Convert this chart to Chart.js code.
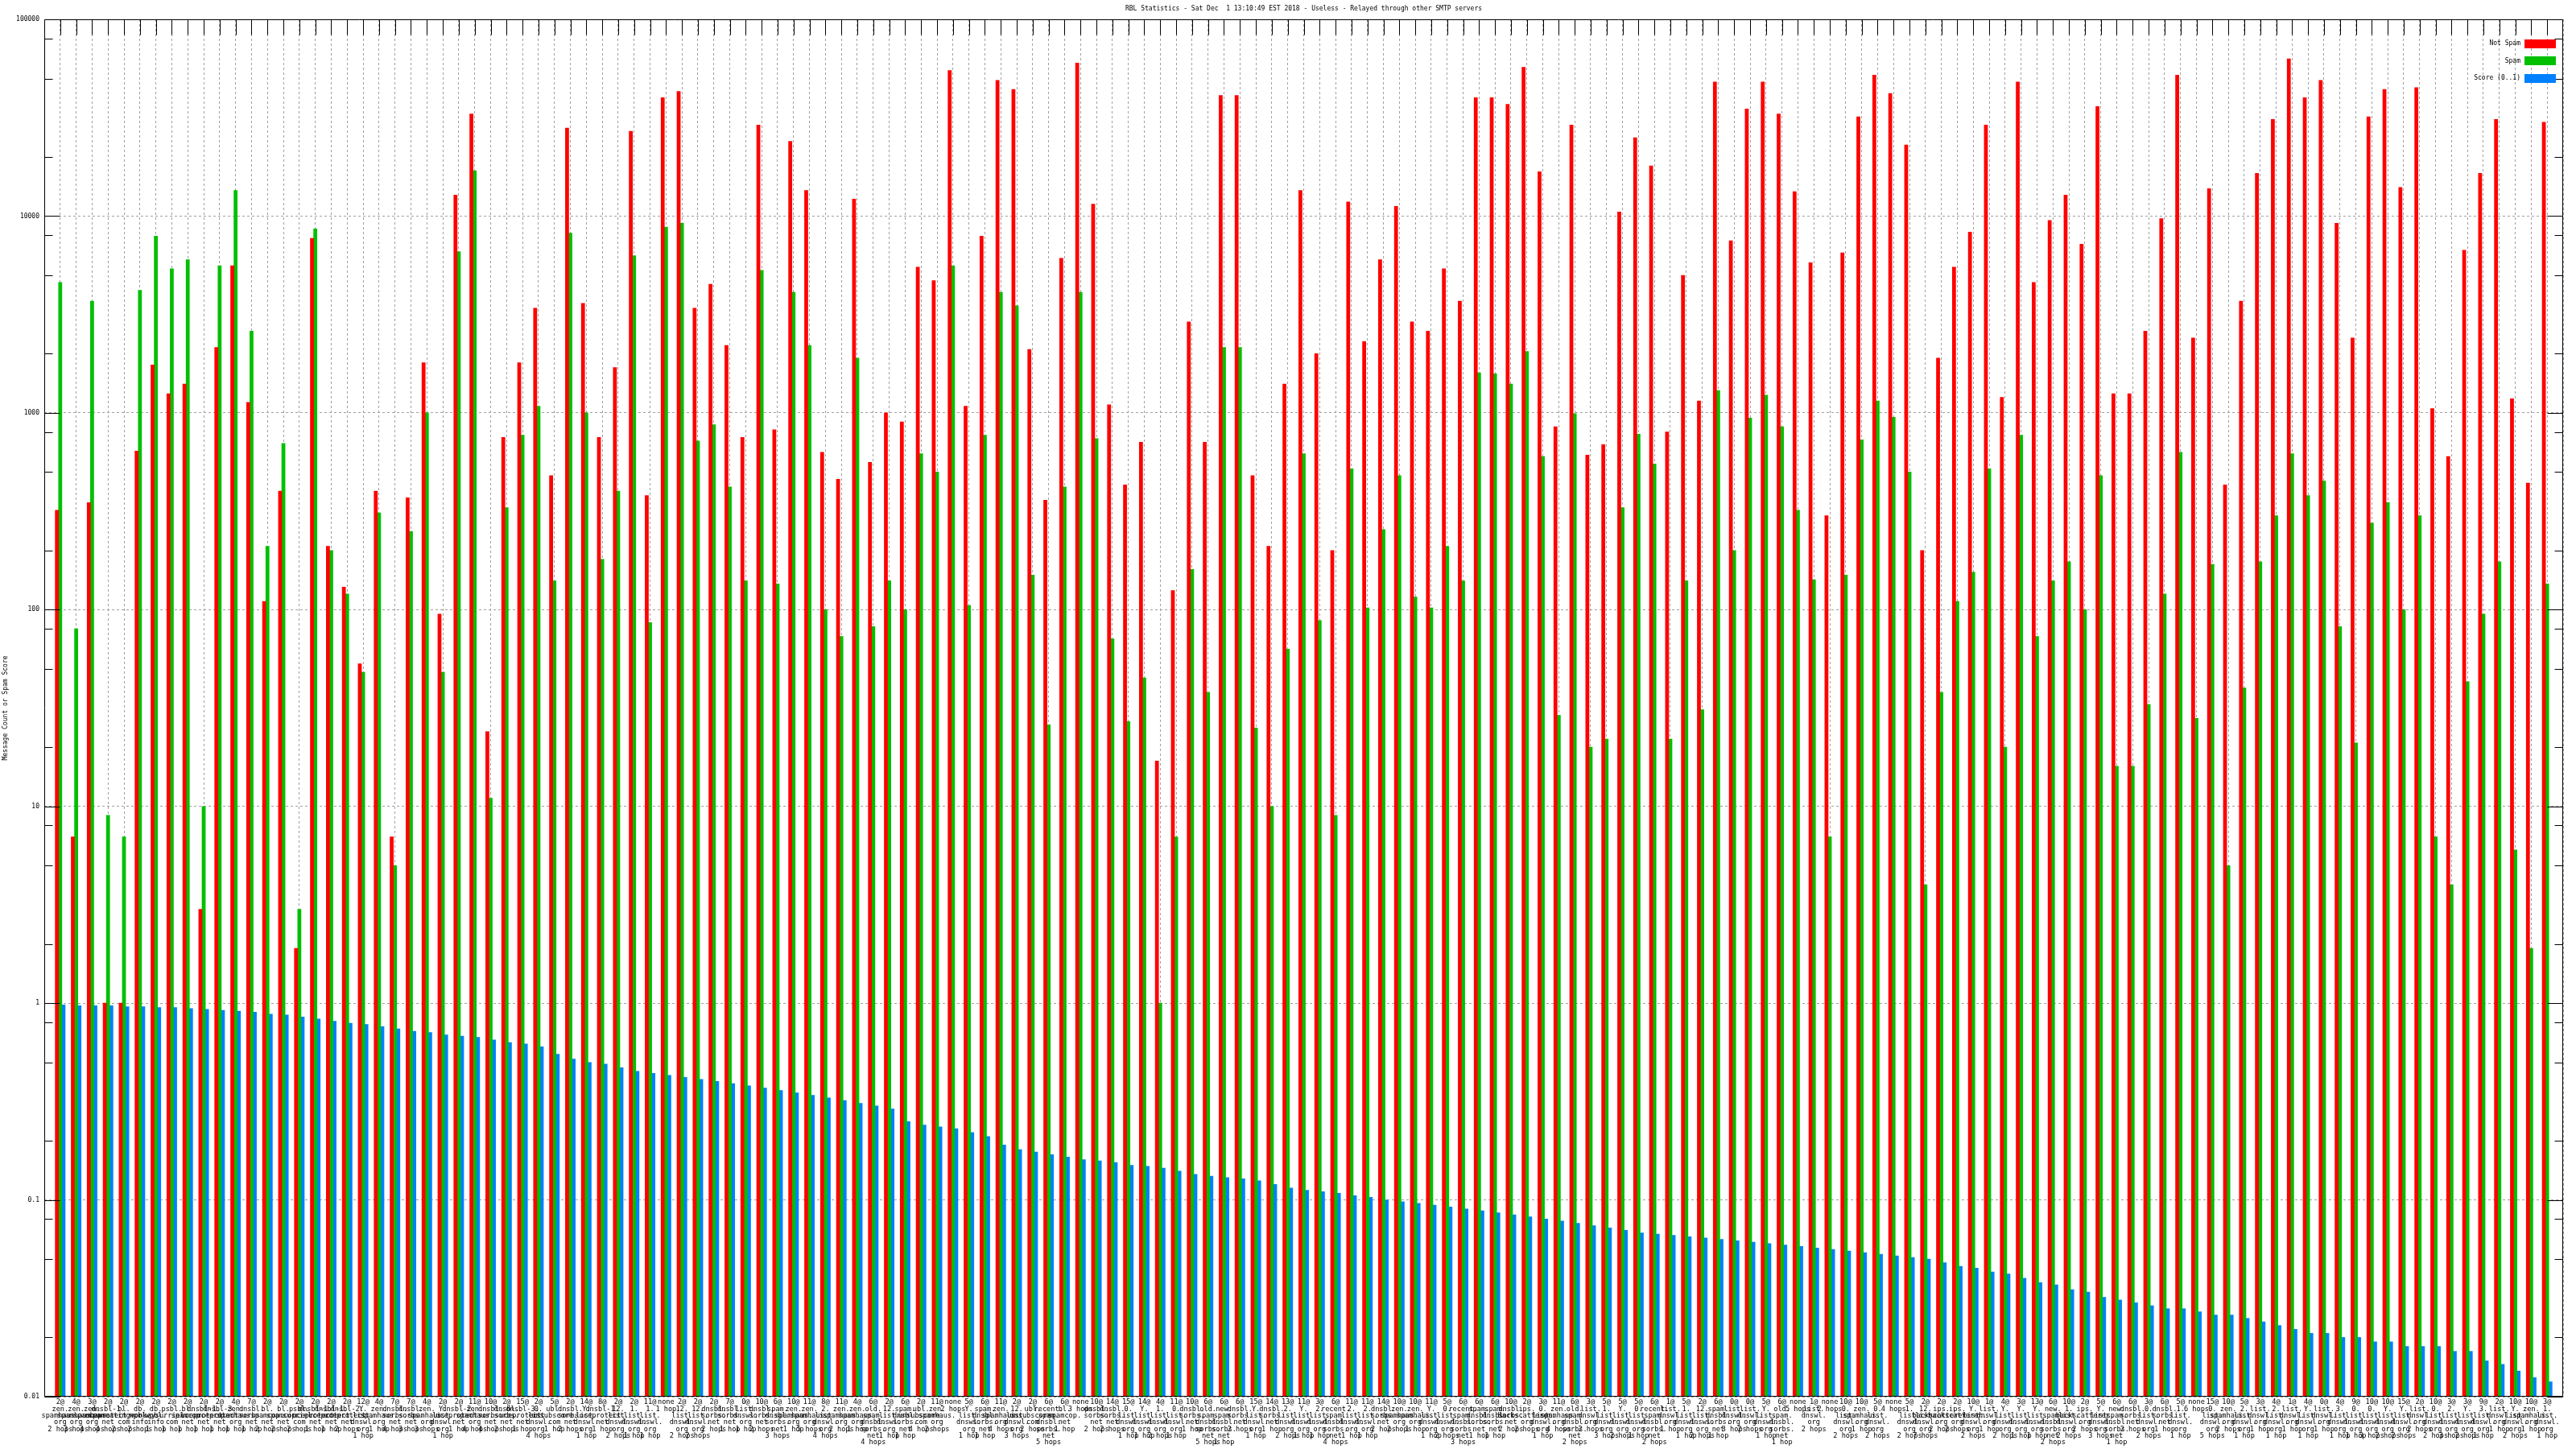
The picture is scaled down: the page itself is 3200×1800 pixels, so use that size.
<!DOCTYPE html>
<html>
<head>
<meta charset="utf-8">
<script src="https://cdn.jsdelivr.net/npm/chart.js@4/dist/chart.umd.min.js"></script>
<style>
html, body { margin: 0; padding: 0; background: #fff; }
#wrap { width: 3200px; height: 1800px; }
</style>
</head>
<body>
<div id="wrap"><canvas id="c" width="3200" height="1800"></canvas></div>
<script>
// libellés axe x : score@ / liste / hops
const scoreTags = [
  '2@','4@','3@','2@','2@','2@','2@','2@','2@','2@','2@','4@','7@','2@','2@','2@','2@','2@','2@','12@','4@','7@','7@','4@',
  '2@','2@','11@','10@','2@','15@','2@','5@','2@','14@','8@','2@','2@','11@','none','2@','2@','2@','7@','0@','10@','6@',
  '10@','11@','8@','11@','4@','6@','2@','6@','2@','11@','none','5@','6@','11@','2@','2@','6@','6@','none','10@','14@','15@',
  '14@','4@','11@','10@','6@','6@','6@','15@','14@','13@','11@','3@','6@','11@','11@','14@','10@','10@','11@','5@','6@','6@','6@','10@','2@',
  '3@','11@','6@','3@','5@','5@','5@','6@','1@','5@','2@','6@','0@','0@','5@','6@','none','1@','none','10@',
  '10@','5@','none','5@','2@','2@','2@','10@','1@','4@','3@','13@','6@','10@','2@','5@','6@','6@','3@','6@','5@',
  'none','15@','10@','5@','3@','4@','1@','4@','0@','4@','9@','10@','10@','15@','2@','10@','3@','3@','9@','2@','10@','10@','3@'
];

const lists = [
  'zen.spamhaus.org','zen.spamhaus.org','zen.spamhaus.org','dnsbl-1.uceprotect.net','bl.spameatingmonkey.com',
  'db.wpbl.info','db.wpbl.info','psbl.surriel.com','bl.spamcop.net','dnsbl-1.uceprotect.net',
  'dnsbl-3.uceprotect.net','zen.spamhaus.org','dnsbl.sorbs.net','bl.spamcop.net','bl.spamcop.net',
  'psbl.surriel.com','dnsbl-1.uceprotect.net','dnsbl-1.uceprotect.net','dnsbl-2.uceprotect.net','Y.list.dnswl.org',
  'zen.spamhaus.org','dnsbl.sorbs.net','dnsbl.sorbs.net','zen.spamhaus.org','Y.list.dnswl.org',
  'dnsbl-2.uceprotect.net','zen.spamhaus.org','dnsbl.sorbs.net','dnsbl.sorbs.net','dnsbl-3.uceprotect.net',
  '0.list.dnswl.org','ubl.unsubscore.com','dnsbl.sorbs.net','Y.list.dnswl.org','dnsbl-1.uceprotect.net',
  '12.list.dnswl.org','1.list.dnswl.org','1.list.dnswl.org','','12.list.dnswl.org',
  '12.list.dnswl.org','dnsbl.sorbs.net','dnsbl.sorbs.net','list.dnswl.org','dnsbl.sorbs.net',
  'spam.dnsbl.sorbs.net','zen.spamhaus.org','zen.spamhaus.org','2.list.dnswl.org','zen.spamhaus.org',
  'zen.spamhaus.org','old.spam.dnsbl.sorbs.net','12.list.dnswl.org','spam.dnsbl.sorbs.net','ubl.unsubscore.com',
  'zen.spamhaus.org','','Y.list.dnswl.org','spam.dnsbl.sorbs.net','zen.spamhaus.org',
  '12.list.dnswl.org','ubl.unsubscore.com','recent.spam.dnsbl.sorbs.net','bl.spamcop.net','',
  'dnsbl.sorbs.net','dnsbl.sorbs.net','0.list.dnswl.org','Y.list.dnswl.org','1.list.dnswl.org',
  '0.list.dnswl.org','dnsbl.sorbs.net','old.spam.dnsbl.sorbs.net','new.spam.dnsbl.sorbs.net','dnsbl.sorbs.net',
  'Y.list.dnswl.org','dnsbl.sorbs.net','2.list.dnswl.org','Y.list.dnswl.org','2.list.dnswl.org',
  'recent.spam.dnsbl.sorbs.net','2.list.dnswl.org','2.list.dnswl.org','dnsbl.sorbs.net','zen.spamhaus.org',
  'zen.spamhaus.org','Y.list.dnswl.org','0.list.dnswl.org','recent.spam.dnsbl.sorbs.net','spam.dnsbl.sorbs.net',
  'spam.dnsbl.sorbs.net','dnsbl.sorbs.net','ips.backscatterer.org','0.list.dnswl.org','zen.spamhaus.org',
  'old.spam.dnsbl.sorbs.net','list.dnswl.org','1.list.dnswl.org','Y.list.dnswl.org','0.list.dnswl.org',
  'recent.spam.dnsbl.sorbs.net','list.dnswl.org','1.list.dnswl.org','12.list.dnswl.org','spam.dnsbl.sorbs.net',
  'list.dnswl.org','list.dnswl.org','Y.list.dnswl.org','old.spam.dnsbl.sorbs.net','',
  'list.dnswl.org','','0.list.dnswl.org','zen.spamhaus.org','0.list.dnswl.org',
  '','1.list.dnswl.org','12.list.dnswl.org','ips.backscatterer.org','ips.backscatterer.org',
  'Y.list.dnswl.org','list.dnswl.org','Y.list.dnswl.org','Y.list.dnswl.org','Y.list.dnswl.org',
  'new.spam.dnsbl.sorbs.net','1.list.dnswl.org','ips.backscatterer.org','Y.list.dnswl.org','new.spam.dnsbl.sorbs.net',
  'dnsbl.sorbs.net','0.list.dnswl.org','dnsbl.sorbs.net','1.list.dnswl.org','',
  '0.list.dnswl.org','zen.spamhaus.org','2.list.dnswl.org','list.dnswl.org','2.list.dnswl.org',
  'list.dnswl.org','Y.list.dnswl.org','list.dnswl.org','3.list.dnswl.org','0.list.dnswl.org',
  '0.list.dnswl.org','Y.list.dnswl.org','Y.list.dnswl.org','list.dnswl.org','0.list.dnswl.org',
  '2.list.dnswl.org','Y.list.dnswl.org','3.list.dnswl.org','list.dnswl.org','Y.list.dnswl.org',
  'zen.spamhaus.org','1.list.dnswl.org'
];

const hops = [
  2,3,4,4,2,2,1,1,1,1, 1,1,1,2,2,2,1,1,2,1, 1,4,3,3,1,1,4,4,2,1,
  4,1,2,1,1,2,1,1,1,2, 2,2,1,1,2,3,1,5,4,2, 1,4,1,1,4,2,2,1,1,4,
  3,2,5,1,3,2,2,1,1,2, 1,1,5,1,2,1,1,2,1,1, 4,1,1,2,2,1,1,2,3,1,
  1,2,2,1,4,2,2,3,2,1, 2,1,1,2,1,3,2,1,1,5, 2,2,2,1,2,4,2,7,2,2,
  2,1,2,1,1,2,2,2,3,1, 2,2,1,1,6,5,2,1,1,1, 1,1,1,1,1,3,2,2,2,2,
  3,2,1,1,2,1,1
];

// séries
const notSpam = [
  320,7,350,1,1,640,1750,1250,1400,3, 2150,5600,1130,110,400,1.9,7700,210,130,53,
  400,7,370,1800,95,12800,33000,24,750,1800, 3400,480,28000,3600,750,1700,27000,380,40000,43000,
  3400,4500,2200,750,29000,820,24000,13500,630,460, 12200,560,1000,900,5500,4700,55000,1080,7900,49000,
  44000,2100,360,6100,60000,11500,1100,430,710,17, 125,2900,710,41000,41000,480,210,1400,13500,2000,
  200,11800,2300,6000,11200,2900,2600,5400,3700,40000, 40000,37000,57000,16800,850,29000,610,690,10500,25000,
  18000,800,5000,1150,48000,7500,35000,48000,33000,13300, 5800,300,6500,32000,52000,42000,23000,200,1900,5500,
  8300,29000,1200,48000,4600,9500,12800,7200,36000,1250, 1250,2600,9700,52000,2400,13800,430,3700,16500,31000,
  63000,40000,49000,9200,2400,32000,44000,14000,45000,1050, 600,6700,16500,31000,1180,440,30000
];
const spam = [
  4600,80,3700,9,7,4200,7900,5400,6000,10, 5600,13500,2600,210,700,3,8600,200,120,48,
  310,5,250,1000,48,6600,17000,11,330,770, 1080,140,8200,1000,180,400,6300,86,8800,9200,
  720,870,420,140,5300,135,4100,2200,100,73, 1900,82,140,100,620,500,5600,105,770,4100,
  3500,150,26,420,4100,740,71,27,45,1, 7,160,38,2150,2150,25,10,63,620,88,
  9,520,102,255,480,116,102,210,140,1600, 1580,1400,2050,600,29,990,20,22,330,780,
  550,22,140,31,1300,200,940,1230,850,320, 142,7,150,730,1150,950,500,4,38,110,
  155,520,20,770,73,140,175,100,480,16, 16,33,120,630,28,170,5,40,175,300,
  620,380,450,82,21,275,350,100,300,7, 4,43,95,175,6,1.9,135
];
const score = [
  0.98,0.97,0.97,0.97,0.96,0.96,0.95,0.95,0.94,0.93, 0.92,0.91,0.90,0.88,0.87,0.85,0.83,0.81,0.79,0.78,
  0.76,0.74,0.72,0.71,0.69,0.68,0.67,0.65,0.63,0.62, 0.60,0.55,0.52,0.50,0.49,0.47,0.45,0.44,0.43,0.42,
  0.41,0.40,0.39,0.38,0.37,0.36,0.35,0.34,0.33,0.32, 0.31,0.30,0.29,0.25,0.24,0.235,0.23,0.22,0.21,0.19,
  0.18,0.175,0.17,0.165,0.16,0.158,0.155,0.15,0.148,0.145, 0.14,0.135,0.132,0.13,0.128,0.125,0.12,0.115,0.112,0.11,
  0.108,0.105,0.103,0.10,0.098,0.096,0.094,0.092,0.09,0.088, 0.086,0.084,0.082,0.08,0.078,0.076,0.074,0.072,0.07,0.068,
  0.067,0.066,0.065,0.064,0.063,0.062,0.061,0.06,0.059,0.058, 0.057,0.056,0.055,0.054,0.053,0.052,0.051,0.05,0.048,0.046,
  0.045,0.043,0.042,0.04,0.038,0.037,0.035,0.034,0.032,0.031, 0.03,0.029,0.028,0.028,0.027,0.026,0.026,0.025,0.024,0.023,
  0.022,0.021,0.021,0.02,0.02,0.019,0.019,0.018,0.018,0.018, 0.017,0.017,0.0152,0.0146,0.0135,0.0125,0.0119
];

const yTicks      = [0.01, 0.1, 1, 10, 100, 1000, 10000, 100000];
const yTickLabels = ['0.01','0.1','1','10','100','1000','10000','100000'];
const minorSteps  = [2, 5, 8];

const titleText = 'RBL Statistics - Sat Dec  1 13:10:49 EST 2018 - Useless - Relayed through other SMTP servers';
const yTitle    = 'Message Count or Spam Score';
const seriesNames  = ['Not Spam', 'Spam', 'Score (0..1)'];
const seriesColors = ['#ff0000', '#00c000', '#0080ff'];

const FONT = "'DejaVu Sans Mono', monospace";

// libellé multi-ligne : "2@" / "zen." / "spamhaus." / "org" / "2 hops"
function hopText(n) { return n === 1 ? '1 hop' : n + ' hops'; }
const labels = scoreTags.map((tag, i) => {
    if (tag === 'none') return ['none', hopText(hops[i])];
    const parts = lists[i].split('.');
    const lines = parts.map((p, k) => k < parts.length - 1 ? p + '.' : p);
    return [tag].concat(lines, [hopText(hops[i])]);
});
// une case vide à chaque bout pour l'écart avant/après comme gnuplot
const pad = arr => [null].concat(arr, [null]);
const padLabels = [''].concat(labels, ['']);

const frame = {
    id: 'frame',
    afterDraw(chart) {
        const c = chart.ctx, a = chart.chartArea;
        const xs = chart.scales.x, ys = chart.scales.y;
        const L = Math.round(a.left) + 0.5, R = Math.round(a.right) - 0.5;
        const T = Math.round(a.top) + 0.5, B = Math.round(a.bottom) - 0.5;
        c.save();
        c.strokeStyle = '#000';
        c.lineWidth = 1;
        c.setLineDash([]);
        c.beginPath();
        c.rect(L, T, R - L, B - T);
        // ticks haut
        for (let i = 1; i <= labels.length; i++) {
            const x = Math.round(xs.getPixelForValue(i)) + 0.5;
            c.moveTo(x, T); c.lineTo(x, T + 19);
        }
        // ticks gauche/droite
        yTicks.forEach(v => {
            const y = Math.round(ys.getPixelForValue(v)) + 0.5;
            c.moveTo(L, y); c.lineTo(L + 19, y);
            c.moveTo(R, y); c.lineTo(R - 19, y);
            if (v < 100000) minorSteps.forEach(m => {
                const ym = Math.round(ys.getPixelForValue(v * m)) + 0.5;
                c.moveTo(L, ym); c.lineTo(L + 10, ym);
                c.moveTo(R, ym); c.lineTo(R - 10, ym);
            });
        });
        c.stroke();

        c.fillStyle = '#000';
        c.font = '8px ' + FONT;
        c.textBaseline = 'middle';
        c.textAlign = 'center';
        c.fillText(titleText, (a.left + a.right) / 2, 11);

        c.save();
        c.translate(7, (a.top + a.bottom) / 2);
        c.rotate(-Math.PI / 2);
        c.fillText(yTitle, 0, 0);
        c.restore();

        // légende
        c.textAlign = 'right';
        seriesNames.forEach((n, k) => {
            const yc = 54 + k * 21.7;
            c.fillStyle = '#000';
            c.fillText(n, 3131, yc);
            c.fillStyle = seriesColors[k];
            c.fillRect(3136, Math.round(yc - 5.5), 39, 11);
        });
        c.restore();
    }
};

const dsBase = { barThickness: 4.1, borderWidth: 0, categoryPercentage: 1, barPercentage: 1 };

new Chart(document.getElementById('c').getContext('2d'), {
    type: 'bar',
    data: {
        labels: padLabels,
        datasets: [
            Object.assign({ label: seriesNames[0], data: pad(notSpam), backgroundColor: seriesColors[0] }, dsBase),
            Object.assign({ label: seriesNames[1], data: pad(spam),    backgroundColor: seriesColors[1] }, dsBase),
            Object.assign({ label: seriesNames[2], data: pad(score),   backgroundColor: seriesColors[2] }, dsBase)
        ]
    },
    options: {
        responsive: false,
        animation: false,
        devicePixelRatio: 1,
        layout: { padding: { left: 0, top: 24, right: 16, bottom: 0 } },
        plugins: { legend: { display: false }, title: { display: false }, tooltip: { enabled: false } },
        scales: {
            x: {
                type: 'category',
                offset: false,
                grid: { offset: false, color: '#a0a0a0', lineWidth: 1, drawTicks: false },
                border: { display: false, dash: [3, 3] },
                ticks: {
                    autoSkip: false, maxRotation: 0, minRotation: 0, padding: 3,
                    color: '#000', font: { family: FONT, size: 8.6, lineHeight: 0.97 }
                },
                afterFit(s) { s.height = 65; }
            },
            y: {
                type: 'logarithmic',
                min: 0.01, max: 100000,
                afterBuildTicks(s) { s.ticks = yTicks.map(v => ({ value: v })); },
                grid: { color: '#a0a0a0', lineWidth: 1, drawTicks: false },
                border: { display: false, dash: [3, 3] },
                ticks: {
                    padding: 6, color: '#000',
                    font: { family: FONT, size: 8 },
                    callback: (v, i) => yTickLabels[i]
                },
                afterFit(s) { s.width = 55; }
            }
        }
    },
    plugins: [frame]
});
</script>
</body>
</html>
